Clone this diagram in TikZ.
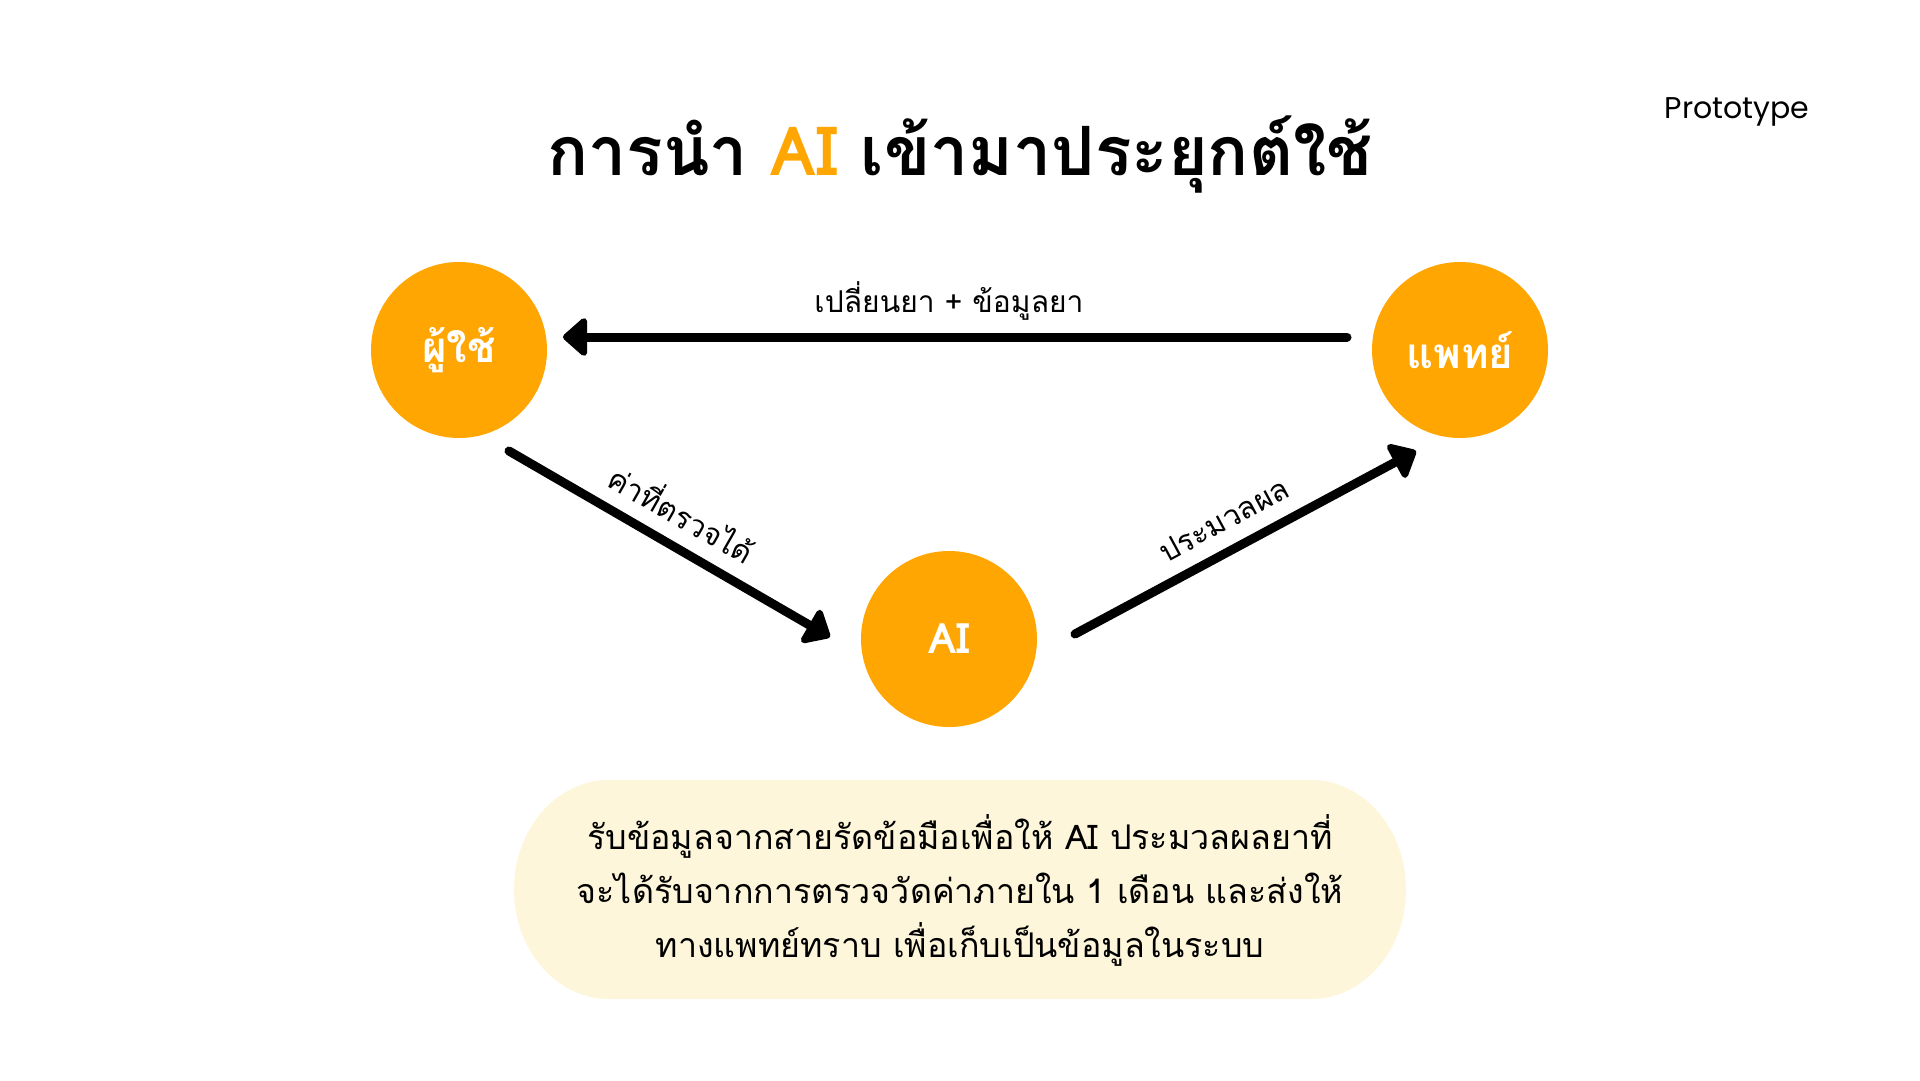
\documentclass[tikz,border=0pt]{standalone}
\usepackage{fontspec}
\newfontfamily\thai[Script=Thai]{Loma}
\newfontfamily\proto{Poppins}
\usetikzlibrary{calc,arrows.meta}
\definecolor{orangeA}{HTML}{FFA602}
\definecolor{creamA}{HTML}{FDF6DA}
\tikzset{
  circ/.style={circle, fill=orangeA, minimum size=176pt, inner sep=0pt, text=white, font=\thai\bfseries\fontsize{42}{48}\selectfont},
  arr/.style={line width=9pt, line cap=round, line join=round, -{Triangle[length=26pt,width=44pt,round]}},
  lab/.style={font=\thai\fontsize{30}{36}\selectfont, inner sep=0pt}
}
\begin{document}
\begin{tikzpicture}[x=1pt,y=-1pt]
\useasboundingbox[fill=white] (0,0) rectangle (1920,1080);
\node[font=\thai\bfseries\fontsize{68}{76}\selectfont, inner sep=0pt] (title) at (960,155) {การนำ \textcolor{orangeA}{AI} เข้ามาประยุกต์ใช้};
\node[font=\proto\fontsize{30}{36}\selectfont, inner sep=0pt] (proto) at (1737,112) {Prototype};
\node[circ] (user) at (459,350) {ผู้ใช้};
\node[circ] (doc) at (1460,350) {แพทย์};
\node[circ] (ai) at (949,639) {AI};
\coordinate (t1s) at ($(doc.center)+(-113,-13)$);
\coordinate (t1e) at ($(user.center)+(104,-13)$);
\draw[arr] (t1s) -- (t1e);
\node[lab] (l1) at (949,301) {เปลี่ยนยา + ข้อมูลยา};
\coordinate (t2s) at ($(user.center)+(50,101)$);
\coordinate (t2e) at ($(ai.center)+(-119,-2)$);
\draw[arr] (t2s) -- (t2e);
\node[lab, rotate=-29.8] (l2) at (683,512) {ค่าที่ตรวจได้};
\coordinate (t3s) at ($(ai.center)+(126,-5)$);
\coordinate (t3e) at ($(doc.center)+(-44,101)$);
\draw[arr] (t3s) -- (t3e);
\node[lab, rotate=28.4] (l3) at (1224,520) {ประมวลผล};
\fill[creamA] (609,780) -- (1311,780) arc[start angle=90, end angle=-90, x radius=95pt, y radius=109.5pt] -- (609,999) arc[start angle=270, end angle=90, x radius=95pt, y radius=109.5pt] -- cycle;
\node[font=\thai\fontsize{34}{54}\selectfont, align=center, inner sep=0pt] (box) at (960,890) {รับข้อมูลจากสายรัดข้อมือเพื่อให้ AI ประมวลผลยาที่\\จะได้รับจากการตรวจวัดค่าภายใน 1 เดือน และส่งให้\\ทางแพทย์ทราบ เพื่อเก็บเป็นข้อมูลในระบบ};
\end{tikzpicture}
\end{document}
